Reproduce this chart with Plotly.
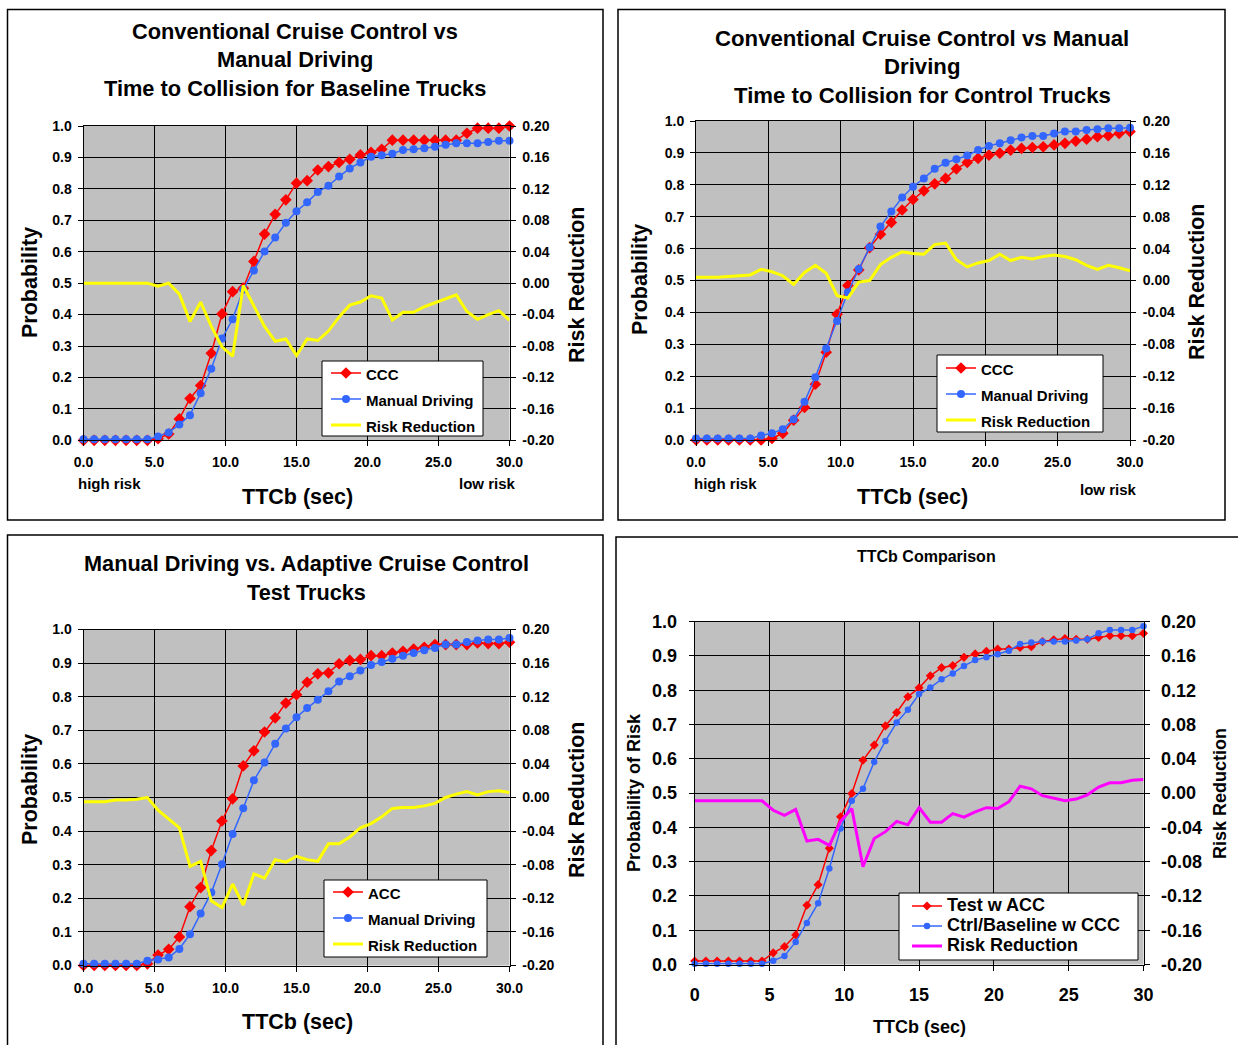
import plotly.graph_objects as go

# ---------------------------------------------------------------- data
ttc = [0.0, 0.75, 1.5, 2.25, 3.0, 3.75, 4.5, 5.25, 6.0, 6.75, 7.5, 8.25, 9.0, 9.75,
       10.5, 11.25, 12.0, 12.75, 13.5, 14.25, 15.0, 15.75, 16.5, 17.25, 18.0, 18.75,
       19.5, 20.25, 21.0, 21.75, 22.5, 23.25, 24.0, 24.75, 25.5, 26.25, 27.0, 27.75,
       28.5, 29.25, 30.0]

# Baseline trucks: CCC vs manual driving
ccc_baseline = [0.0, 0.0, 0.0, 0.0, 0.0, 0.0, 0.0, 0.005, 0.02, 0.068, 0.133, 0.174,
                0.277, 0.402, 0.473, 0.484, 0.569, 0.656, 0.719, 0.765, 0.818, 0.826,
                0.86, 0.871, 0.884, 0.894, 0.908, 0.916, 0.926, 0.955, 0.955, 0.955,
                0.955, 0.955, 0.955, 0.955, 0.977, 0.993, 0.993, 0.993, 1.0]
manual_baseline = [0.003, 0.003, 0.003, 0.003, 0.003, 0.003, 0.003, 0.012, 0.025, 0.05,
                   0.08, 0.15, 0.228, 0.324, 0.385, 0.48, 0.54, 0.601, 0.645, 0.692,
                   0.729, 0.757, 0.79, 0.81, 0.839, 0.865, 0.884, 0.902, 0.907, 0.912,
                   0.924, 0.926, 0.929, 0.934, 0.94, 0.945, 0.945, 0.945, 0.949, 0.953,
                   0.953]
risk_baseline = [0.0, 0.0, 0.0, 0.0, 0.0, 0.0, 0.0, -0.004, 0.0, -0.014, -0.049, -0.024,
                 -0.055, -0.081, -0.093, -0.003, -0.030, -0.055, -0.074, -0.071, -0.092,
                 -0.071, -0.073, -0.061, -0.043, -0.028, -0.024, -0.016, -0.019, -0.047,
                 -0.037, -0.037, -0.030, -0.025, -0.021, -0.015, -0.036, -0.046, -0.040,
                 -0.035, -0.047]

# Control trucks: CCC vs manual driving
ccc_control = [0.0, 0.0, 0.0, 0.0, 0.0, 0.0, 0.0, 0.005, 0.021, 0.062, 0.102, 0.175,
               0.275, 0.394, 0.484, 0.533, 0.603, 0.645, 0.682, 0.721, 0.754, 0.781,
               0.803, 0.820, 0.850, 0.870, 0.883, 0.893, 0.899, 0.909, 0.914, 0.917,
               0.919, 0.925, 0.930, 0.937, 0.943, 0.951, 0.954, 0.961, 0.967]
manual_control = [0.005, 0.005, 0.005, 0.005, 0.005, 0.005, 0.014, 0.021, 0.034, 0.065,
                  0.12, 0.197, 0.287, 0.373, 0.463, 0.536, 0.604, 0.669, 0.716, 0.760,
                  0.794, 0.82, 0.85, 0.869, 0.88, 0.892, 0.909, 0.922, 0.93, 0.94, 0.948,
                  0.953, 0.953, 0.961, 0.967, 0.967, 0.972, 0.974, 0.977, 0.977, 0.979]
risk_control = [0.004, 0.004, 0.004, 0.005, 0.006, 0.007, 0.014, 0.011, 0.006, -0.005,
                0.010, 0.019, 0.009, -0.019, -0.022, -0.002, 0.0, 0.020, 0.029, 0.036,
                0.034, 0.033, 0.045, 0.047, 0.026, 0.017, 0.022, 0.025, 0.033, 0.025,
                0.029, 0.027, 0.030, 0.032, 0.030, 0.026, 0.019, 0.014, 0.019, 0.016,
                0.012]

# Test trucks: ACC vs manual driving
acc_test = [0.0, 0.0, 0.0, 0.0, 0.0, 0.0, 0.005, 0.031, 0.048, 0.085, 0.175, 0.232,
            0.342, 0.430, 0.496, 0.594, 0.639, 0.695, 0.737, 0.781, 0.806, 0.843, 0.868,
            0.871, 0.898, 0.908, 0.911, 0.922, 0.922, 0.930, 0.935, 0.942, 0.947, 0.955,
            0.955, 0.955, 0.955, 0.960, 0.958, 0.958, 0.962]
manual_test = [0.005, 0.005, 0.005, 0.005, 0.005, 0.005, 0.014, 0.018, 0.024, 0.049,
               0.093, 0.155, 0.217, 0.301, 0.391, 0.468, 0.551, 0.604, 0.660, 0.705,
               0.739, 0.766, 0.791, 0.816, 0.845, 0.861, 0.878, 0.894, 0.903, 0.913,
               0.922, 0.930, 0.938, 0.945, 0.955, 0.955, 0.963, 0.967, 0.970, 0.970,
               0.975]
risk_test = [-0.005, -0.005, -0.005, -0.003, -0.003, -0.002, 0.0, -0.015, -0.026, -0.036,
             -0.082, -0.076, -0.123, -0.131, -0.103, -0.128, -0.091, -0.096, -0.074,
             -0.077, -0.070, -0.074, -0.076, -0.055, -0.055, -0.047, -0.036, -0.031,
             -0.023, -0.013, -0.012, -0.012, -0.010, -0.007, 0.0, 0.004, 0.007, 0.003,
             0.007, 0.008, 0.006]

# Comparison: test trucks with ACC vs control/baseline with CCC
test_acc = [0.010, 0.010, 0.010, 0.010, 0.010, 0.010, 0.010, 0.034, 0.052, 0.086, 0.173,
            0.233, 0.339, 0.431, 0.499, 0.596, 0.640, 0.696, 0.735, 0.781, 0.807, 0.842,
            0.866, 0.872, 0.896, 0.906, 0.914, 0.920, 0.920, 0.925, 0.927, 0.942, 0.947,
            0.951, 0.949, 0.949, 0.954, 0.959, 0.959, 0.959, 0.966]
ctrl_ccc = [0.002, 0.002, 0.002, 0.002, 0.002, 0.002, 0.002, 0.011, 0.025, 0.066, 0.121,
            0.179, 0.280, 0.397, 0.478, 0.513, 0.591, 0.652, 0.706, 0.743, 0.789, 0.808,
            0.832, 0.849, 0.871, 0.888, 0.896, 0.905, 0.915, 0.935, 0.939, 0.942, 0.942,
            0.942, 0.945, 0.949, 0.966, 0.976, 0.976, 0.976, 0.987]
risk_compare = [-0.009, -0.009, -0.009, -0.009, -0.009, -0.009, -0.009, -0.020, -0.026,
                -0.019, -0.056, -0.054, -0.061, -0.033, -0.018, -0.086, -0.053, -0.045,
                -0.033, -0.037, -0.017, -0.034, -0.034, -0.024, -0.028, -0.022, -0.017,
                -0.018, -0.010, 0.008, 0.005, -0.003, -0.006, -0.009, -0.007, -0.002,
                0.007, 0.012, 0.012, 0.015, 0.016]

# tick labels
prob_ticks = [0.0, 0.1, 0.2, 0.3, 0.4, 0.5, 0.6, 0.7, 0.8, 0.9, 1.0]
prob_labels = ["0.0", "0.1", "0.2", "0.3", "0.4", "0.5", "0.6", "0.7", "0.8", "0.9", "1.0"]
risk_ticks = [-0.20, -0.16, -0.12, -0.08, -0.04, 0.0, 0.04, 0.08, 0.12, 0.16, 0.20]
risk_labels = ["-0.20", "-0.16", "-0.12", "-0.08", "-0.04", "0.00", "0.04", "0.08",
               "0.12", "0.16", "0.20"]
ttc_ticks = [0, 5, 10, 15, 20, 25, 30]
ttc_labels_dec = ["0.0", "5.0", "10.0", "15.0", "20.0", "25.0", "30.0"]
ttc_labels_int = ["0", "5", "10", "15", "20", "25", "30"]

# ---------------------------------------------------------------- styling
W, H = 1238, 1045
FONT = "Liberation Sans, Arial, sans-serif"
RED, BLUE, YELLOW, MAGENTA = "#FF0000", "#3366FF", "#FFFF00", "#FF00FF"
GREY = "#C0C0C0"


def fx(x):
    return x / W


def fy(y):
    return 1 - y / H


def bold(size, color="black"):
    return dict(family=FONT, size=size, color=color, weight="bold")


panels = [
    dict(box=(83.5, 126.0, 509.5, 440.3), frame=(7.5, 9.5, 603, 520),
         tick=14, tick_std=(3, 4, 4), xlabels=ttc_labels_dec,
         series=[("CCC", ccc_baseline), ("Manual Driving", manual_baseline),
                 ("Risk Reduction", risk_baseline)],
         risk_color=YELLOW, msize=(9, 8),
         legend=dict(box=(322, 361, 483, 436), left=326, top=355, gap=26, text=15),
         titles=[("Conventional Cruise Control vs", 295, 31),
                 ("Manual Driving", 295, 60),
                 ("Time to Collision for Baseline Trucks", 295, 88)],
         title_size=21.8,
         axis_titles=[("Probability", 30, 283, -90), ("Risk Reduction", 577, 285, -90),
                      ("TTCb (sec)", 297, 497, 0)],
         axis_title_size=21.5,
         notes=[("high risk", 109, 483), ("low risk", 487, 483)]),
    dict(box=(696.0, 121.0, 1130.0, 440.0), frame=(618, 9.5, 1225, 520),
         tick=14, tick_std=(3, 4, 4), xlabels=ttc_labels_dec,
         series=[("CCC", ccc_control), ("Manual Driving", manual_control),
                 ("Risk Reduction", risk_control)],
         risk_color=YELLOW, msize=(9, 8),
         legend=dict(box=(937, 355, 1103, 432), left=941, top=350, gap=26, text=15),
         titles=[("Conventional Cruise Control vs Manual", 922, 38),
                 ("Driving", 922, 67),
                 ("Time to Collision for Control Trucks", 922, 95)],
         title_size=22.2,
         axis_titles=[("Probability", 640, 280, -90), ("Risk Reduction", 1197, 282, -90),
                      ("TTCb (sec)", 912, 497, 0)],
         axis_title_size=21.5,
         notes=[("high risk", 725, 483), ("low risk", 1108, 489)]),
    dict(box=(83.5, 629.5, 509.5, 965.5), frame=(7.5, 535, 603, 1060),
         tick=14, tick_std=(3, 5, 4), xlabels=ttc_labels_dec,
         series=[("ACC", acc_test), ("Manual Driving", manual_test),
                 ("Risk Reduction", risk_test)],
         risk_color=YELLOW, msize=(9, 8),
         legend=dict(box=(324, 880, 487, 957), left=328, top=874, gap=26, text=15),
         titles=[("Manual Driving vs. Adaptive Cruise Control", 306, 563),
                 ("Test Trucks", 306, 592)],
         title_size=21.7,
         axis_titles=[("Probability", 30, 790, -90), ("Risk Reduction", 577, 800, -90),
                      ("TTCb (sec)", 297, 1022, 0)],
         axis_title_size=21.5,
         notes=[]),
    dict(box=(694.7, 621.7, 1143.5, 964.5), frame=(616, 537, 1260, 1060),
         tick=18, tick_std=(8, 9, 8), xlabels=ttc_labels_int,
         series=[("Test w ACC", test_acc), ("Ctrl/Baseline w CCC", ctrl_ccc),
                 ("Risk Reduction", risk_compare)],
         risk_color=MAGENTA, msize=(7, 6.5),
         legend=dict(box=(899, 893, 1138, 960), left=907, top=891, gap=20, text=18),
         titles=[("TTCb Comparison", 927, 556)],
         title_size=16,
         axis_titles=[("Probability of Risk", 634, 793, -90),
                      ("Risk Reduction", 1220, 794, -90),
                      ("TTCb (sec)", 920, 1027, 0)],
         axis_title_size=18,
         notes=[]),
]

fig = go.Figure()
layout = dict(width=W, height=H, autosize=False,
              margin=dict(l=0, r=0, t=0, b=0, pad=0, autoexpand=False),
              paper_bgcolor="white", plot_bgcolor=GREY,
              showlegend=True, shapes=[], annotations=[])

for k, p in enumerate(panels, start=1):
    xname = "x" if k == 1 else f"x{k}"
    ya, yb = 2 * k - 1, 2 * k
    yname_a = "y" if ya == 1 else f"y{ya}"
    yname_b = f"y{yb}"
    xkey = "xaxis" if k == 1 else f"xaxis{k}"
    ykey_a = "yaxis" if ya == 1 else f"yaxis{ya}"
    ykey_b = f"yaxis{yb}"
    lname = "legend" if k == 1 else f"legend{k}"

    x0, y0, x1, y1 = p["box"]
    std_l, std_b, std_r = p["tick_std"]
    common = dict(showline=True, linecolor="black", linewidth=1, ticks="outside",
                  ticklen=5, tickwidth=1, tickcolor="black", zeroline=False,
                  tickfont=bold(p["tick"]), fixedrange=True, automargin=False)

    layout[xkey] = dict(domain=[fx(x0), fx(x1)], anchor=yname_a, range=[0, 30],
                        tickmode="array", tickvals=ttc_ticks, ticktext=p["xlabels"],
                        showgrid=True, gridcolor="black", gridwidth=1, mirror=True,
                        ticklabelstandoff=std_b, **common)
    layout[ykey_a] = dict(domain=[fy(y1), fy(y0)], anchor=xname, range=[0, 1],
                          tickmode="array", tickvals=prob_ticks, ticktext=prob_labels,
                          showgrid=True, gridcolor="black", gridwidth=1, mirror=True,
                          ticklabelstandoff=std_l, **common)
    layout[ykey_b] = dict(overlaying=yname_a, anchor=xname, side="right",
                          range=[-0.2, 0.2], tickmode="array", tickvals=risk_ticks,
                          ticktext=risk_labels, showgrid=False,
                          ticklabelstandoff=std_r, **common)

    (n1, s1), (n2, s2), (n3, s3) = p["series"]
    lg = p["legend"]
    span = "<span style='font-size:%dpx'>%s</span>"
    fig.add_trace(go.Scatter(
        x=ttc, y=s1, xaxis=xname, yaxis=yname_a, mode="lines+markers",
        name=span % (lg["text"], n1), legend=lname, cliponaxis=False,
        line=dict(color=RED, width=1.5),
        marker=dict(symbol="diamond", size=p["msize"][0], color=RED)))
    fig.add_trace(go.Scatter(
        x=ttc, y=s2, xaxis=xname, yaxis=yname_a, mode="lines+markers",
        name=span % (lg["text"], n2), legend=lname, cliponaxis=False,
        line=dict(color=BLUE, width=1.5),
        marker=dict(symbol="circle", size=p["msize"][1], color=BLUE)))
    fig.add_trace(go.Scatter(
        x=ttc, y=s3, xaxis=xname, yaxis=yname_b, mode="lines",
        name=span % (lg["text"], n3), legend=lname,
        line=dict(color=p["risk_color"], width=3)))

    # legend: white box drawn as a shape, entries from the plotly legend on top
    legend_font = (lg["gap"] - 3) / 1.3
    layout[lname] = dict(x=fx(lg["left"]), y=fy(lg["top"]), xanchor="left",
                         yanchor="top", bgcolor="rgba(0,0,0,0)", borderwidth=0,
                         font=bold(legend_font), itemclick=False,
                         itemdoubleclick=False, tracegroupgap=0)
    bx0, by0, bx1, by1 = lg["box"]
    layout["shapes"].append(dict(type="rect", xref="paper", yref="paper",
                                 x0=fx(bx0), x1=fx(bx1), y0=fy(by1), y1=fy(by0),
                                 fillcolor="white", line=dict(color="black", width=1),
                                 layer="above"))

    # chart frame
    fx0, fy0, fx1, fy1 = p["frame"]
    layout["shapes"].append(dict(type="rect", xref="paper", yref="paper",
                                 x0=fx(fx0), x1=fx(fx1), y0=fy(fy1), y1=fy(fy0),
                                 line=dict(color="black", width=1.5),
                                 fillcolor="rgba(0,0,0,0)", layer="above"))

    for text, cx, cy in p["titles"]:
        layout["annotations"].append(dict(text=text, x=fx(cx), y=fy(cy), xref="paper",
                                          yref="paper", showarrow=False,
                                          xanchor="center", yanchor="middle",
                                          font=bold(p["title_size"])))
    for text, cx, cy, ang in p["axis_titles"]:
        layout["annotations"].append(dict(text=text, x=fx(cx), y=fy(cy), xref="paper",
                                          yref="paper", showarrow=False, textangle=ang,
                                          xanchor="center", yanchor="middle",
                                          font=bold(p["axis_title_size"])))
    for text, cx, cy in p["notes"]:
        layout["annotations"].append(dict(text=text, x=fx(cx), y=fy(cy), xref="paper",
                                          yref="paper", showarrow=False,
                                          xanchor="center", yanchor="middle",
                                          font=bold(15)))

fig.update_layout(**layout)
fig.write_html("out.html")
